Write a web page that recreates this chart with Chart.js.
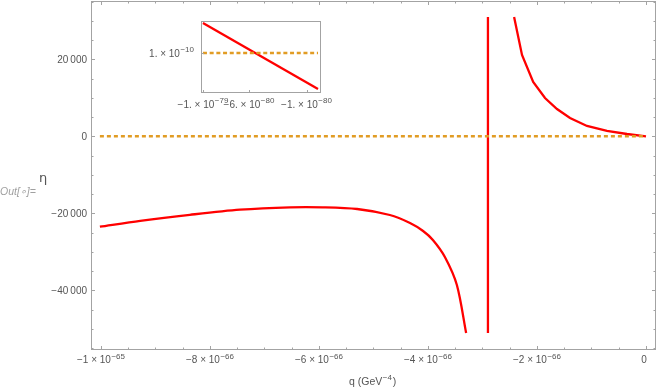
<!DOCTYPE html>
<html>
<head>
<meta charset="utf-8">
<script src="https://cdn.jsdelivr.net/npm/chart.js@4.4.0/dist/chart.umd.min.js"></script>
<style>
  html, body { margin: 0; padding: 0; background: #fff; }
  #wrap { position: relative; width: 658px; height: 388px; }
  #main { position: absolute; left: 0; top: 0; }
  #inset { position: absolute; left: 140px; top: 10px; }
  #out { position: absolute; left: 0px; top: 185px; font: italic 10.5px "Liberation Sans", Arial, sans-serif; color: #a0a0a0; white-space: nowrap; }
</style>
</head>
<body>
<div id="wrap">
  <canvas id="main" width="658" height="388"></canvas>
  <canvas id="inset" width="200" height="105"></canvas>
  <div id="out">Out[∘]=</div>
</div>
<script>
// ---------- DATA (main plot: q in units of 10^-66 GeV^-4) ----------
const qLeft   = [-10.02, -9.28, -8.37, -7.45, -6.53, -5.93, -5.30, -4.70, -4.33, -4.09, -3.91, -3.69, -3.47, -3.30];
const etaLeft = [-23480, -21950, -20390, -19060, -18440, -18440, -18880, -20440, -22510, -24590, -26930, -31350, -38620, -51090];

const qPole   = [-2.90, -2.90];
const etaPole = [30980, -51090];

const qRight   = [-2.42, -2.275, -2.07, -1.853, -1.633, -1.394, -1.083, -0.716, -0.349, 0];
const etaRight = [30980, 21110, 14100, 9950, 7090, 4750, 2680, 1380, 600, 0];

const qZero   = [-10.02, 0];
const etaZero = [0, 0];

const xTickValues = [-10, -8, -6, -4, -2, 0];
const xTickBase   = ["\u22121 \u00d7 10", "\u22128 \u00d7 10", "\u22126 \u00d7 10", "\u22124 \u00d7 10", "\u22122 \u00d7 10", "0"];
const xTickExp    = ["\u221265", "\u221266", "\u221266", "\u221266", "\u221266", ""];
const yTickValues = [20000, 0, -20000, -40000];
const yTickLabels = ["20\u2009000", "0", "\u221220\u2009000", "\u221240\u2009000"];

// ---------- DATA (inset: q in units of 10^-80, eta in units of 10^-10) ----------
const insetQ      = [-10, 0];
const insetEta    = [1.30, 0.64];
const insetQZero  = [-10, 0];
const insetEtaOne = [1, 1];
const insetXTickValues = [-10, -6, -1];
const insetXTickBase   = ["\u22121. \u00d7 10", "\u22126. \u00d7 10", "\u22121. \u00d7 10"];
const insetXTickExp    = ["\u221279", "\u221280", "\u221280"];
const insetYTickValues = [1];
const insetYTickBase   = ["1. \u00d7 10"];
const insetYTickExp    = ["\u221210"];

// ---------- helpers ----------
const RED = '#ff0000';
const ORANGE = 'rgb(225,156,36)';
const FRAME = '#a3a3a3';
const LABEL = '#555555';
const FONT = '"Liberation Sans", Arial, sans-serif';

function pts(xs, ys) { return xs.map((x, i) => ({ x: x, y: ys[i] })); }

function drawSup(ctx, base, exp, x, y, align, size) {
  const bf = size + 'px ' + FONT;
  const ef = Math.round(size * 0.78) + 'px ' + FONT;
  ctx.font = bf; const wb = ctx.measureText(base).width;
  ctx.font = ef; const we = exp ? ctx.measureText(exp).width + 0.5 : 0;
  const w = wb + we;
  let sx = x;
  if (align === 'center') sx = x - w / 2;
  else if (align === 'right') sx = x - w;
  ctx.textAlign = 'left';
  ctx.textBaseline = 'alphabetic';
  ctx.font = bf; ctx.fillText(base, sx, y);
  if (exp) { ctx.font = ef; ctx.fillText(exp, sx + wb + 0.5, y - size * 0.45); }
}

function frameTicks(ctx, ca, xs, ys, xMajor, xMinorStep, yMajor, yMinorStep, majLen, minLen) {
  ctx.save();
  ctx.strokeStyle = FRAME;
  ctx.lineWidth = 1;
  ctx.strokeRect(ca.left + 0.5, ca.top + 0.5, ca.right - ca.left - 1, ca.bottom - ca.top - 1);
  ctx.beginPath();
  const xmin = xs.min, xmax = xs.max, ymin = ys.min, ymax = ys.max;
  if (xMinorStep) {
    for (let v = Math.ceil(xmin / xMinorStep) * xMinorStep; v <= xmax + 1e-9; v += xMinorStep) {
      const px = Math.round(xs.getPixelForValue(v)) + 0.5;
      const isMaj = xMajor.some(m => Math.abs(m - v) < 1e-6);
      const L = isMaj ? majLen : minLen;
      ctx.moveTo(px, ca.bottom); ctx.lineTo(px, ca.bottom - L);
      ctx.moveTo(px, ca.top); ctx.lineTo(px, ca.top + L);
    }
  } else {
    xMajor.forEach(v => {
      const px = Math.round(xs.getPixelForValue(v)) + 0.5;
      ctx.moveTo(px, ca.bottom); ctx.lineTo(px, ca.bottom - majLen);
    });
  }
  if (yMinorStep) {
    for (let v = Math.ceil(ymin / yMinorStep) * yMinorStep; v <= ymax + 1e-9; v += yMinorStep) {
      const py = Math.round(ys.getPixelForValue(v)) + 0.5;
      const isMaj = yMajor.some(m => Math.abs(m - v) < 1e-6);
      const L = isMaj ? majLen : minLen;
      ctx.moveTo(ca.left, py); ctx.lineTo(ca.left + L, py);
      ctx.moveTo(ca.right, py); ctx.lineTo(ca.right - L, py);
    }
  } else {
    yMajor.forEach(v => {
      const py = Math.round(ys.getPixelForValue(v)) + 0.5;
      ctx.moveTo(ca.left, py); ctx.lineTo(ca.left + majLen, py);
    });
  }
  ctx.stroke();
  ctx.restore();
}

// ---------- main chart ----------
const mainPlugin = {
  id: 'mainDeco',
  beforeDraw(chart) {
    const ctx = chart.ctx;
    ctx.save(); ctx.fillStyle = '#fff'; ctx.fillRect(0, 0, chart.width, chart.height); ctx.restore();
  },
  afterDraw(chart) {
    const ctx = chart.ctx, ca = chart.chartArea;
    const xs = chart.scales.x, ys = chart.scales.y;
    frameTicks(ctx, ca, xs, ys, xTickValues, 0.5, yTickValues, 5000, 4, 2.5);
    ctx.save();
    ctx.fillStyle = LABEL;
    xTickValues.forEach((v, i) => {
      drawSup(ctx, xTickBase[i], xTickExp[i], xs.getPixelForValue(v) + (xTickExp[i] ? 0 : -2), 363, 'center', 10);
    });
    yTickValues.forEach((v, i) => {
      drawSup(ctx, yTickLabels[i], '', 87, ys.getPixelForValue(v) + 3.6, 'right', 10);
    });
    // axis titles
    drawSup(ctx, 'q (GeV', '\u22124', (ca.left + ca.right) / 2 - 3, 385, 'center', 10.5);
    ctx.font = '10.5px ' + FONT;
    const wq = ctx.measureText('q (GeV').width;
    ctx.font = '8px ' + FONT;
    const we = ctx.measureText('\u22124').width;
    ctx.font = '10.5px ' + FONT;
    ctx.fillText(')', (ca.left + ca.right) / 2 - 3 + (wq + we) / 2 + 1, 385);
    ctx.font = '13px "DejaVu Sans", ' + FONT;
    ctx.textAlign = 'center';
    ctx.fillText('\u03b7', 43, 182);
    ctx.restore();
  }
};

new Chart(document.getElementById('main'), {
  type: 'scatter',
  data: {
    datasets: [
      { data: pts(qZero, etaZero), showLine: true, borderColor: ORANGE, borderWidth: 2.4, borderDash: [4, 3], pointRadius: 0 },
      { data: pts(qLeft, etaLeft), showLine: true, borderColor: RED, borderWidth: 2.3, pointRadius: 0, tension: 0.3 },
      { data: pts(qPole, etaPole), showLine: true, borderColor: RED, borderWidth: 2.3, pointRadius: 0 },
      { data: pts(qRight, etaRight), showLine: true, borderColor: RED, borderWidth: 2.3, pointRadius: 0 }
    ]
  },
  options: {
    responsive: false,
    animation: false,
    devicePixelRatio: 1,
    layout: { padding: { left: 91, right: 2, top: 1, bottom: 38 } },
    plugins: { legend: { display: false }, tooltip: { enabled: false } },
    scales: {
      x: { type: 'linear', display: false, min: -10.183, max: 0.1835 },
      y: { type: 'linear', display: false, min: -55506, max: 35143 }
    }
  },
  plugins: [mainPlugin]
});

// ---------- inset chart ----------
const insetPlugin = {
  id: 'insetDeco',
  beforeDraw(chart) {
    const ctx = chart.ctx, ca = chart.chartArea;
    ctx.save(); ctx.fillStyle = '#fff'; ctx.fillRect(ca.left, ca.top, ca.right - ca.left, ca.bottom - ca.top); ctx.restore();
  },
  afterDraw(chart) {
    const ctx = chart.ctx, ca = chart.chartArea;
    const xs = chart.scales.x, ys = chart.scales.y;
    frameTicks(ctx, ca, xs, ys, insetXTickValues, 0, insetYTickValues, 0, 3, 2);
    ctx.save();
    ctx.fillStyle = LABEL;
    insetXTickValues.forEach((v, i) => {
      drawSup(ctx, insetXTickBase[i], insetXTickExp[i], xs.getPixelForValue(v), 97.5, 'center', 10);
    });
    insetYTickValues.forEach((v, i) => {
      drawSup(ctx, insetYTickBase[i], insetYTickExp[i], 54, ys.getPixelForValue(v) + 3.6, 'right', 10);
    });
    ctx.restore();
  }
};

new Chart(document.getElementById('inset'), {
  type: 'scatter',
  data: {
    datasets: [
      { data: pts(insetQZero, insetEtaOne), showLine: true, borderColor: ORANGE, borderWidth: 2.4, borderDash: [4, 2.7], pointRadius: 0 },
      { data: pts(insetQ, insetEta), showLine: true, borderColor: RED, borderWidth: 2.3, pointRadius: 0 }
    ]
  },
  options: {
    responsive: false,
    animation: false,
    devicePixelRatio: 1,
    layout: { padding: { left: 61, right: 19, top: 11, bottom: 22 } },
    plugins: { legend: { display: false }, tooltip: { enabled: false } },
    scales: {
      x: { type: 'linear', display: false, min: -10.17, max: 0.26 },
      y: { type: 'linear', display: false, min: 0.60, max: 1.32 }
    }
  },
  plugins: [insetPlugin]
});
</script>
</body>
</html>
